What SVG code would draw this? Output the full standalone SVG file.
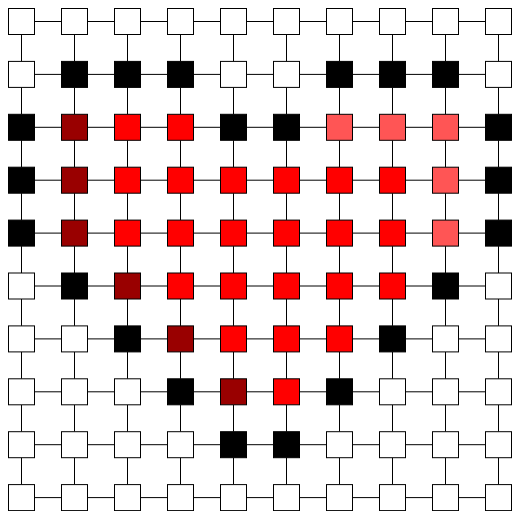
<svg xmlns="http://www.w3.org/2000/svg" xmlns:xlink="http://www.w3.org/1999/xlink" width="512" height="511" viewBox="0 0 512 511">
<style>
.e{stroke:#000;stroke-width:1;fill:none}
.w,.b,.d,.r,.l{stroke:#000;stroke-width:1}
.w{fill:#fff}.b{fill:#000}.d{fill:#990000}.r{fill:#ff0000}.l{fill:#ff5555}
</style>
<defs>
<path id="hrow" class="e" d="M34.5 0H61.5M87.5 0H114.5M140.5 0H167.5M193.5 0H220.5M246.5 0H273.5M299.5 0H326.5M352.5 0H379.5M405.5 0H432.5M458.5 0H485.5"/>
<path id="vcol" class="e" d="M0 34.5V61.4M0 87.4V114.3M0 140.3V167.2M0 193.2V220.1M0 246.1V273M0 299V325.9M0 351.9V378.8M0 404.8V431.7M0 457.7V484.6"/>
</defs>
<rect width="512" height="511" fill="#fff"/>
<g id="connectors">
<use xlink:href="#hrow" y="21.5"/><use xlink:href="#hrow" y="74.4"/><use xlink:href="#hrow" y="127.3"/><use xlink:href="#hrow" y="180.2"/><use xlink:href="#hrow" y="233.1"/><use xlink:href="#hrow" y="286"/><use xlink:href="#hrow" y="338.9"/><use xlink:href="#hrow" y="391.8"/><use xlink:href="#hrow" y="444.7"/><use xlink:href="#hrow" y="497.6"/>
<use xlink:href="#vcol" x="21.5"/><use xlink:href="#vcol" x="74.5"/><use xlink:href="#vcol" x="127.5"/><use xlink:href="#vcol" x="180.5"/><use xlink:href="#vcol" x="233.5"/><use xlink:href="#vcol" x="286.5"/><use xlink:href="#vcol" x="339.5"/><use xlink:href="#vcol" x="392.5"/><use xlink:href="#vcol" x="445.5"/><use xlink:href="#vcol" x="498.5"/>
</g>
<g id="nodes">
<!-- row 0 -->
<g id="n0-0"><rect class="w" x="8.5" y="8.5" width="26" height="26"/></g>
<g id="n0-1"><rect class="w" x="61.5" y="8.5" width="26" height="26"/></g>
<g id="n0-2"><rect class="w" x="114.5" y="8.5" width="26" height="26"/></g>
<g id="n0-3"><rect class="w" x="167.5" y="8.5" width="26" height="26"/></g>
<g id="n0-4"><rect class="w" x="220.5" y="8.5" width="26" height="26"/></g>
<g id="n0-5"><rect class="w" x="273.5" y="8.5" width="26" height="26"/></g>
<g id="n0-6"><rect class="w" x="326.5" y="8.5" width="26" height="26"/></g>
<g id="n0-7"><rect class="w" x="379.5" y="8.5" width="26" height="26"/></g>
<g id="n0-8"><rect class="w" x="432.5" y="8.5" width="26" height="26"/></g>
<g id="n0-9"><rect class="w" x="485.5" y="8.5" width="26" height="26"/></g>
<!-- row 1 -->
<g id="n1-0"><rect class="w" x="8.5" y="61.4" width="26" height="26"/></g>
<g id="n1-1"><rect class="b" x="61.5" y="61.4" width="26" height="26"/></g>
<g id="n1-2"><rect class="b" x="114.5" y="61.4" width="26" height="26"/></g>
<g id="n1-3"><rect class="b" x="167.5" y="61.4" width="26" height="26"/></g>
<g id="n1-4"><rect class="w" x="220.5" y="61.4" width="26" height="26"/></g>
<g id="n1-5"><rect class="w" x="273.5" y="61.4" width="26" height="26"/></g>
<g id="n1-6"><rect class="b" x="326.5" y="61.4" width="26" height="26"/></g>
<g id="n1-7"><rect class="b" x="379.5" y="61.4" width="26" height="26"/></g>
<g id="n1-8"><rect class="b" x="432.5" y="61.4" width="26" height="26"/></g>
<g id="n1-9"><rect class="w" x="485.5" y="61.4" width="26" height="26"/></g>
<!-- row 2 -->
<g id="n2-0"><rect class="b" x="8.5" y="114.3" width="26" height="26"/></g>
<g id="n2-1"><rect class="d" x="61.5" y="114.3" width="26" height="26"/></g>
<g id="n2-2"><rect class="r" x="114.5" y="114.3" width="26" height="26"/></g>
<g id="n2-3"><rect class="r" x="167.5" y="114.3" width="26" height="26"/></g>
<g id="n2-4"><rect class="b" x="220.5" y="114.3" width="26" height="26"/></g>
<g id="n2-5"><rect class="b" x="273.5" y="114.3" width="26" height="26"/></g>
<g id="n2-6"><rect class="l" x="326.5" y="114.3" width="26" height="26"/></g>
<g id="n2-7"><rect class="l" x="379.5" y="114.3" width="26" height="26"/></g>
<g id="n2-8"><rect class="l" x="432.5" y="114.3" width="26" height="26"/></g>
<g id="n2-9"><rect class="b" x="485.5" y="114.3" width="26" height="26"/></g>
<!-- row 3 -->
<g id="n3-0"><rect class="b" x="8.5" y="167.2" width="26" height="26"/></g>
<g id="n3-1"><rect class="d" x="61.5" y="167.2" width="26" height="26"/></g>
<g id="n3-2"><rect class="r" x="114.5" y="167.2" width="26" height="26"/></g>
<g id="n3-3"><rect class="r" x="167.5" y="167.2" width="26" height="26"/></g>
<g id="n3-4"><rect class="r" x="220.5" y="167.2" width="26" height="26"/></g>
<g id="n3-5"><rect class="r" x="273.5" y="167.2" width="26" height="26"/></g>
<g id="n3-6"><rect class="r" x="326.5" y="167.2" width="26" height="26"/></g>
<g id="n3-7"><rect class="r" x="379.5" y="167.2" width="26" height="26"/></g>
<g id="n3-8"><rect class="l" x="432.5" y="167.2" width="26" height="26"/></g>
<g id="n3-9"><rect class="b" x="485.5" y="167.2" width="26" height="26"/></g>
<!-- row 4 -->
<g id="n4-0"><rect class="b" x="8.5" y="220.1" width="26" height="26"/></g>
<g id="n4-1"><rect class="d" x="61.5" y="220.1" width="26" height="26"/></g>
<g id="n4-2"><rect class="r" x="114.5" y="220.1" width="26" height="26"/></g>
<g id="n4-3"><rect class="r" x="167.5" y="220.1" width="26" height="26"/></g>
<g id="n4-4"><rect class="r" x="220.5" y="220.1" width="26" height="26"/></g>
<g id="n4-5"><rect class="r" x="273.5" y="220.1" width="26" height="26"/></g>
<g id="n4-6"><rect class="r" x="326.5" y="220.1" width="26" height="26"/></g>
<g id="n4-7"><rect class="r" x="379.5" y="220.1" width="26" height="26"/></g>
<g id="n4-8"><rect class="l" x="432.5" y="220.1" width="26" height="26"/></g>
<g id="n4-9"><rect class="b" x="485.5" y="220.1" width="26" height="26"/></g>
<!-- row 5 -->
<g id="n5-0"><rect class="w" x="8.5" y="273" width="26" height="26"/></g>
<g id="n5-1"><rect class="b" x="61.5" y="273" width="26" height="26"/></g>
<g id="n5-2"><rect class="d" x="114.5" y="273" width="26" height="26"/></g>
<g id="n5-3"><rect class="r" x="167.5" y="273" width="26" height="26"/></g>
<g id="n5-4"><rect class="r" x="220.5" y="273" width="26" height="26"/></g>
<g id="n5-5"><rect class="r" x="273.5" y="273" width="26" height="26"/></g>
<g id="n5-6"><rect class="r" x="326.5" y="273" width="26" height="26"/></g>
<g id="n5-7"><rect class="r" x="379.5" y="273" width="26" height="26"/></g>
<g id="n5-8"><rect class="b" x="432.5" y="273" width="26" height="26"/></g>
<g id="n5-9"><rect class="w" x="485.5" y="273" width="26" height="26"/></g>
<!-- row 6 -->
<g id="n6-0"><rect class="w" x="8.5" y="325.9" width="26" height="26"/></g>
<g id="n6-1"><rect class="w" x="61.5" y="325.9" width="26" height="26"/></g>
<g id="n6-2"><rect class="b" x="114.5" y="325.9" width="26" height="26"/></g>
<g id="n6-3"><rect class="d" x="167.5" y="325.9" width="26" height="26"/></g>
<g id="n6-4"><rect class="r" x="220.5" y="325.9" width="26" height="26"/></g>
<g id="n6-5"><rect class="r" x="273.5" y="325.9" width="26" height="26"/></g>
<g id="n6-6"><rect class="r" x="326.5" y="325.9" width="26" height="26"/></g>
<g id="n6-7"><rect class="b" x="379.5" y="325.9" width="26" height="26"/></g>
<g id="n6-8"><rect class="w" x="432.5" y="325.9" width="26" height="26"/></g>
<g id="n6-9"><rect class="w" x="485.5" y="325.9" width="26" height="26"/></g>
<!-- row 7 -->
<g id="n7-0"><rect class="w" x="8.5" y="378.8" width="26" height="26"/></g>
<g id="n7-1"><rect class="w" x="61.5" y="378.8" width="26" height="26"/></g>
<g id="n7-2"><rect class="w" x="114.5" y="378.8" width="26" height="26"/></g>
<g id="n7-3"><rect class="b" x="167.5" y="378.8" width="26" height="26"/></g>
<g id="n7-4"><rect class="d" x="220.5" y="378.8" width="26" height="26"/></g>
<g id="n7-5"><rect class="r" x="273.5" y="378.8" width="26" height="26"/></g>
<g id="n7-6"><rect class="b" x="326.5" y="378.8" width="26" height="26"/></g>
<g id="n7-7"><rect class="w" x="379.5" y="378.8" width="26" height="26"/></g>
<g id="n7-8"><rect class="w" x="432.5" y="378.8" width="26" height="26"/></g>
<g id="n7-9"><rect class="w" x="485.5" y="378.8" width="26" height="26"/></g>
<!-- row 8 -->
<g id="n8-0"><rect class="w" x="8.5" y="431.7" width="26" height="26"/></g>
<g id="n8-1"><rect class="w" x="61.5" y="431.7" width="26" height="26"/></g>
<g id="n8-2"><rect class="w" x="114.5" y="431.7" width="26" height="26"/></g>
<g id="n8-3"><rect class="w" x="167.5" y="431.7" width="26" height="26"/></g>
<g id="n8-4"><rect class="b" x="220.5" y="431.7" width="26" height="26"/></g>
<g id="n8-5"><rect class="b" x="273.5" y="431.7" width="26" height="26"/></g>
<g id="n8-6"><rect class="w" x="326.5" y="431.7" width="26" height="26"/></g>
<g id="n8-7"><rect class="w" x="379.5" y="431.7" width="26" height="26"/></g>
<g id="n8-8"><rect class="w" x="432.5" y="431.7" width="26" height="26"/></g>
<g id="n8-9"><rect class="w" x="485.5" y="431.7" width="26" height="26"/></g>
<!-- row 9 -->
<g id="n9-0"><rect class="w" x="8.5" y="484.6" width="26" height="26"/></g>
<g id="n9-1"><rect class="w" x="61.5" y="484.6" width="26" height="26"/></g>
<g id="n9-2"><rect class="w" x="114.5" y="484.6" width="26" height="26"/></g>
<g id="n9-3"><rect class="w" x="167.5" y="484.6" width="26" height="26"/></g>
<g id="n9-4"><rect class="w" x="220.5" y="484.6" width="26" height="26"/></g>
<g id="n9-5"><rect class="w" x="273.5" y="484.6" width="26" height="26"/></g>
<g id="n9-6"><rect class="w" x="326.5" y="484.6" width="26" height="26"/></g>
<g id="n9-7"><rect class="w" x="379.5" y="484.6" width="26" height="26"/></g>
<g id="n9-8"><rect class="w" x="432.5" y="484.6" width="26" height="26"/></g>
<g id="n9-9"><rect class="w" x="485.5" y="484.6" width="26" height="26"/></g>
</g>
</svg>
